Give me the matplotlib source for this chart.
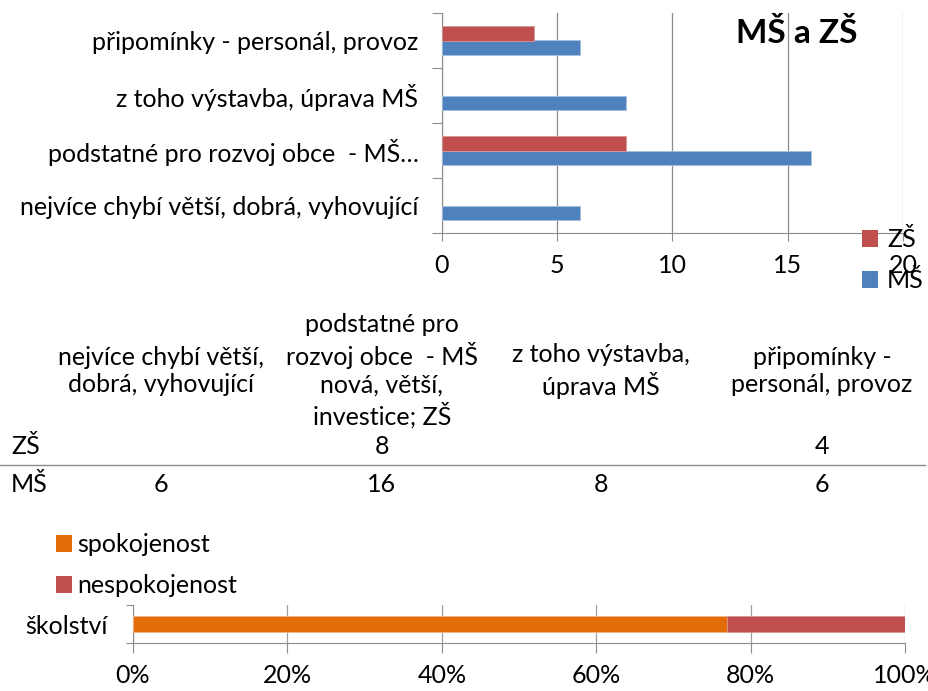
import matplotlib
matplotlib.use("Agg")
import matplotlib.pyplot as plt
from matplotlib.lines import Line2D
from matplotlib.patches import Patch
from matplotlib.ticker import FixedLocator, NullFormatter

# ---------------- data ----------------
categories = ["nejvíce chybí větší, dobrá, vyhovující",
              "podstatné pro rozvoj obce  - MŠ nová, větší, investice; ZŠ",
              "z toho výstavba, úprava MŠ",
              "připomínky - personál, provoz"]
axis_labels = ["nejvíce chybí větší, dobrá, vyhovující",
               "podstatné pro rozvoj obce  - MŠ…",
               "z toho výstavba, úprava MŠ",
               "připomínky - personál, provoz"]
table_headers = ["nejvíce chybí větší,\ndobrá, vyhovující",
                 "podstatné pro\nrozvoj obce  - MŠ\nnová, větší,\ninvestice; ZŠ",
                 "z toho výstavba,\núprava MŠ",
                 "připomínky -\npersonál, provoz"]
series_names = ["ZŠ", "MŠ"]
zs_values = [None, 8, None, 4]
ms_values = [6, 16, 8, 6]
x_ticks = [0, 5, 10, 15, 20]
title = "MŠ a ZŠ"

sat_category = "školství"
sat_names = ["spokojenost", "nespokojenost"]
sat_values = [77, 23]
pct_ticks = [0, 20, 40, 60, 80, 100]

# ---------------- style ----------------
plt.rcParams['font.family'] = ['Lato', 'DejaVu Sans']
FS = 18
BLUE = '#4F81BD'
RED = '#C0504D'
ORANGE = '#E46C0A'
GRAY = '#8C8C8C'

W, H = 929, 691
fig = plt.figure(figsize=(W / 100, H / 100), dpi=100)


def fx(px):
    return px / W


def fy(py):
    return 1 - py / H


def rect(l, t, r, b):
    return [fx(l), fy(b), (r - l) / W, (b - t) / H]


# ---------------- top bar chart ----------------
ax1 = fig.add_axes(rect(442, 13, 903, 233))
ypos = list(range(len(categories)))
bh = 0.27
zs_y = [y + bh / 2 for y, v in zip(ypos, zs_values) if v is not None]
zs_v = [v for v in zs_values if v is not None]
ax1.barh([y - bh / 2 for y in ypos], ms_values, height=bh, color=BLUE,
         edgecolor='#A7C0DE', linewidth=0.6, zorder=3)
ax1.barh(zs_y, zs_v, height=bh, color=RED, edgecolor='#D99795',
         linewidth=0.6, zorder=3)
ax1.set_xlim(x_ticks[0], x_ticks[-1])
ax1.set_ylim(-0.5, len(categories) - 0.5)
ax1.set_xticks(x_ticks)
ax1.set_xticklabels([str(t) for t in x_ticks], fontsize=FS)
ax1.tick_params(axis='x', length=6, color=GRAY, pad=9)
ax1.xaxis.grid(True, color=GRAY, linewidth=0.9, zorder=0)
ax1.set_axisbelow(True)
ax1.yaxis.set_major_locator(FixedLocator([y - 0.5 for y in ypos] + [ypos[-1] + 0.5]))
ax1.yaxis.set_major_formatter(NullFormatter())
ax1.yaxis.set_minor_locator(FixedLocator(ypos))
ax1.set_yticklabels(axis_labels, minor=True, fontsize=FS)
ax1.tick_params(axis='y', which='major', length=7, color=GRAY)
ax1.tick_params(axis='y', which='minor', length=0, pad=17)
for s in ['top', 'right']:
    ax1.spines[s].set_visible(False)
for s in ['left', 'bottom']:
    ax1.spines[s].set_color(GRAY)

fig.text(fx(797), fy(33), title, ha='center', va='center', fontsize=24,
         fontweight='bold')

fig.legend(handles=[Patch(facecolor=RED), Patch(facecolor=BLUE)],
           labels=series_names, loc='upper left',
           bbox_to_anchor=(fx(862), fy(228)), frameon=False, fontsize=FS,
           handlelength=0.65, handleheight=0.65, handletextpad=0.35,
           labelspacing=0.72, borderpad=0, borderaxespad=0)

# ---------------- data table ----------------
col_x = [161, 382, 601, 822]
for cx, head in zip(col_x, table_headers):
    fig.text(fx(cx), fy(371), head, ha='center', va='center',
             multialignment='center', fontsize=FS, linespacing=1.25)
row_y = [447, 485]
for ry, name, vals in zip(row_y, series_names, [zs_values, ms_values]):
    fig.text(fx(11), fy(ry), name, ha='left', va='center', fontsize=FS)
    for cx, v in zip(col_x, vals):
        if v is not None:
            fig.text(fx(cx), fy(ry), str(v), ha='center', va='center',
                     fontsize=FS)
fig.add_artist(Line2D([fx(0), fx(925)], [fy(465), fy(465)], color=GRAY,
                      linewidth=1))

# ---------------- satisfaction stacked bar ----------------
ax2 = fig.add_axes(rect(133, 605, 905, 643))
left = 0
sat_colors = [ORANGE, RED]
for val, col in zip(sat_values, sat_colors):
    ax2.barh([0], [val], left=left, height=0.4, color=col,
             edgecolor='#F2B48A' if col == ORANGE else '#D99795',
             linewidth=0.6, zorder=3)
    left += val
ax2.set_xlim(0, 100)
ax2.set_ylim(-0.5, 0.5)
ax2.set_xticks(pct_ticks)
ax2.set_xticklabels([f"{t}%" for t in pct_ticks], fontsize=FS)
ax2.tick_params(axis='x', length=7, color=GRAY, pad=8)
ax2.xaxis.grid(True, color='#A0A0A0', linewidth=0.9, zorder=0)
ax2.set_axisbelow(True)
ax2.yaxis.set_major_locator(FixedLocator([-0.5, 0.5]))
ax2.yaxis.set_major_formatter(NullFormatter())
ax2.yaxis.set_minor_locator(FixedLocator([0]))
ax2.set_yticklabels([sat_category], minor=True, fontsize=FS)
ax2.tick_params(axis='y', which='major', length=5, color=GRAY)
ax2.tick_params(axis='y', which='minor', length=0, pad=18)
for s in ['top', 'right']:
    ax2.spines[s].set_visible(False)
for s in ['left', 'bottom']:
    ax2.spines[s].set_color(GRAY)

fig.legend(handles=[Patch(facecolor=c) for c in sat_colors],
           labels=sat_names, loc='upper left',
           bbox_to_anchor=(fx(56), fy(533)), frameon=False, fontsize=FS,
           handlelength=0.65, handleheight=0.65, handletextpad=0.2,
           labelspacing=0.72, borderpad=0, borderaxespad=0)

fig.savefig("out.png", dpi=100)
